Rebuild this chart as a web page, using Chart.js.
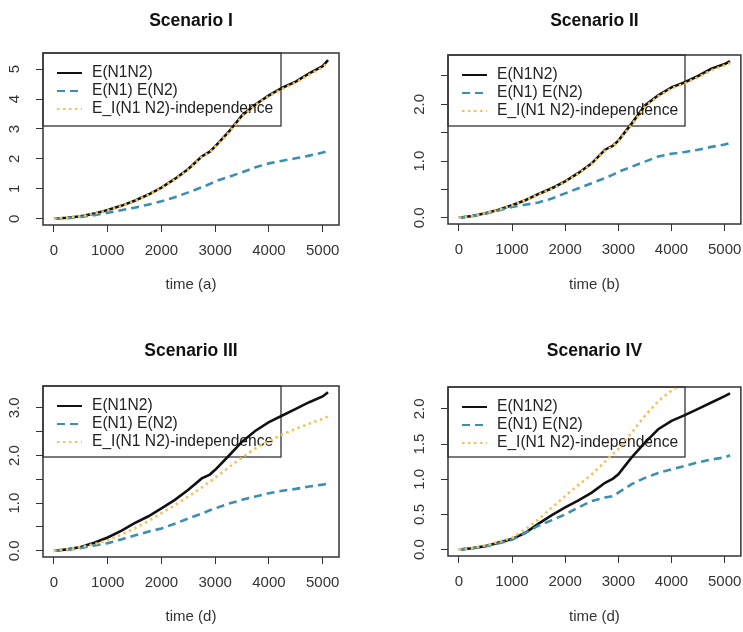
<!DOCTYPE html>
<html>
<head>
<meta charset="utf-8">
<script src="https://cdn.jsdelivr.net/npm/chart.js@4.4.1/dist/chart.umd.min.js"></script>
<style>
html, body { margin: 0; padding: 0; background: #fff; overflow: hidden; width: 743px; height: 632px; }
canvas { position: absolute; }
</style>
</head>
<body>
<canvas id="c1" width="372" height="300" style="left:0;top:0"></canvas>
<canvas id="c2" width="380" height="300" style="left:372px;top:0"></canvas>
<canvas id="c3" width="372" height="302" style="left:0;top:330px"></canvas>
<canvas id="c4" width="380" height="302" style="left:372px;top:330px"></canvas>
<script>
// time grid shared by every curve
const tempos = [0, 250, 500, 750, 1000, 1250, 1500, 1750, 2000, 2250, 2500, 2750, 2900, 3000, 3250, 3500, 3750, 4000, 4250, 4500, 4750, 5000, 5100];
const xTicks = [0, 1000, 2000, 3000, 4000, 5000];
const nomesSerie = ['E(N1N2)', 'E(N1) E(N2)', 'E_I(N1 N2)-independence'];

// Scenario I
const s1Conj  = [0, 0.03, 0.08, 0.17, 0.29, 0.43, 0.60, 0.80, 1.04, 1.33, 1.66, 2.08, 2.24, 2.42, 2.90, 3.45, 3.82, 4.12, 4.38, 4.58, 4.86, 5.10, 5.30];
const s1Prod  = [0, 0.02, 0.06, 0.12, 0.20, 0.28, 0.37, 0.47, 0.58, 0.72, 0.88, 1.05, 1.16, 1.25, 1.40, 1.55, 1.72, 1.85, 1.94, 2.02, 2.11, 2.21, 2.26];
const s1Indep = [0, 0.03, 0.08, 0.17, 0.28, 0.42, 0.59, 0.79, 1.03, 1.31, 1.64, 2.06, 2.22, 2.40, 2.87, 3.42, 3.80, 4.10, 4.34, 4.55, 4.82, 5.06, 5.24];
// Scenario II
const s2Conj  = [0, 0.03, 0.08, 0.14, 0.22, 0.31, 0.42, 0.52, 0.64, 0.79, 0.96, 1.20, 1.27, 1.36, 1.66, 1.98, 2.16, 2.30, 2.39, 2.50, 2.63, 2.71, 2.76];
const s2Prod  = [0, 0.03, 0.07, 0.13, 0.19, 0.23, 0.27, 0.34, 0.43, 0.52, 0.61, 0.70, 0.76, 0.81, 0.90, 0.99, 1.08, 1.13, 1.16, 1.20, 1.25, 1.29, 1.32];
const s2Indep = [0, 0.03, 0.08, 0.14, 0.22, 0.31, 0.41, 0.51, 0.63, 0.78, 0.95, 1.18, 1.26, 1.35, 1.64, 1.96, 2.14, 2.28, 2.37, 2.48, 2.60, 2.69, 2.73];
// Scenario III
const s3Conj  = [0, 0.03, 0.08, 0.17, 0.28, 0.42, 0.58, 0.72, 0.89, 1.07, 1.28, 1.52, 1.60, 1.70, 1.99, 2.29, 2.52, 2.70, 2.84, 2.98, 3.12, 3.24, 3.33];
const s3Prod  = [0, 0.02, 0.06, 0.11, 0.16, 0.24, 0.32, 0.40, 0.47, 0.57, 0.68, 0.78, 0.85, 0.89, 0.99, 1.07, 1.14, 1.21, 1.26, 1.30, 1.35, 1.39, 1.41];
const s3Indep = [0, 0.03, 0.08, 0.14, 0.22, 0.34, 0.47, 0.62, 0.79, 0.96, 1.14, 1.33, 1.45, 1.53, 1.75, 1.96, 2.15, 2.31, 2.44, 2.56, 2.67, 2.77, 2.82];
// Scenario IV
const s4Conj  = [0, 0.02, 0.05, 0.10, 0.15, 0.24, 0.37, 0.49, 0.60, 0.70, 0.81, 0.95, 1.01, 1.07, 1.31, 1.52, 1.71, 1.83, 1.91, 2.00, 2.09, 2.18, 2.22];
const s4Prod  = [0, 0.02, 0.05, 0.09, 0.14, 0.24, 0.34, 0.42, 0.50, 0.60, 0.69, 0.74, 0.76, 0.81, 0.93, 1.02, 1.09, 1.14, 1.19, 1.24, 1.28, 1.31, 1.34];
const s4Indep = [0, 0.02, 0.06, 0.11, 0.17, 0.29, 0.43, 0.60, 0.76, 0.92, 1.07, 1.25, 1.36, 1.43, 1.66, 1.90, 2.11, 2.26, 2.38, 2.50, 2.62, 2.74, 2.80];

const yTicks1 = [0, 1, 2, 3, 4, 5];             const yRotulos1 = [0, 1, 2, 3, 4, 5];
const yTicks2 = [0, 0.5, 1, 1.5, 2, 2.5];       const yRotulos2 = [0, 1, 2];
const yTicks3 = [0, 0.5, 1, 1.5, 2, 2.5, 3];    const yRotulos3 = [0, 1, 2, 3];
const yTicks4 = [0, 0.5, 1, 1.5, 2];            const yRotulos4 = [0, 0.5, 1, 1.5, 2];

const FONTE = '"Liberation Sans", Arial, sans-serif';
Chart.defaults.font.family = FONTE;
Chart.defaults.color = '#222';

const paineis = [
  { id: 'c1', titulo: 'Scenario I',   eixoX: 'time (a)', series: [s1Conj, s1Prod, s1Indep], yMin: -0.21, yMax: 5.54, yTicks: yTicks1, yRot: yRotulos1, dec: 0,
    area: { left: 43, right: 33, top: 53, xAlt: 75 }, leg: { w: 238, h: 73 } },
  { id: 'c2', titulo: 'Scenario II',  eixoX: 'time (b)', series: [s2Conj, s2Prod, s2Indep], yMin: -0.11, yMax: 2.87, yTicks: yTicks2, yRot: yRotulos2, dec: 1,
    area: { left: 76, right: 8, top: 55, xAlt: 76 }, leg: { w: 237, h: 71 } },
  { id: 'c3', titulo: 'Scenario III', eixoX: 'time (d)', series: [s3Conj, s3Prod, s3Indep], yMin: -0.13, yMax: 3.46, yTicks: yTicks3, yRot: yRotulos3, dec: 1,
    area: { left: 43, right: 33, top: 56, xAlt: 75 }, leg: { w: 238, h: 71 } },
  { id: 'c4', titulo: 'Scenario IV',  eixoX: 'time (d)', series: [s4Conj, s4Prod, s4Indep], yMin: -0.09, yMax: 2.31, yTicks: yTicks4, yRot: yRotulos4, dec: 1,
    area: { left: 76, right: 8, top: 57, xAlt: 76 }, leg: { w: 237, h: 70 } }
];

const estilos = [
  { borderColor: '#111111', borderWidth: 2.6, borderDash: [], order: 2 },
  { borderColor: '#3b8fb3', borderWidth: 2.6, borderDash: [8, 5], order: 1 },
  { borderColor: '#f3c35a', borderWidth: 2.6, borderDash: [2.5, 3.5], order: 0 }
];

const ctxMedida = document.createElement('canvas').getContext('2d');
ctxMedida.font = '15px ' + FONTE;
function larguraMax(rotulos, dec) {
  return Math.max(...rotulos.map(v => ctxMedida.measureText(v.toFixed(dec)).width));
}

// R-like legend box in the top-left corner, no fill, drawn under the lines
const legendaR = {
  id: 'legendaR',
  beforeDatasetsDraw(chart, args, opts) {
    const { ctx, chartArea: a } = chart;
    ctx.save();
    ctx.strokeStyle = '#333'; ctx.lineWidth = 1.3;
    ctx.strokeRect(a.left, a.top, opts.w, opts.h);
    ctx.font = '15.6px ' + FONTE;
    ctx.textBaseline = 'middle';
    chart.data.datasets.forEach((ds, i) => {
      const y = a.top + 20 + i * 18;
      ctx.beginPath();
      ctx.setLineDash(ds.borderDash);
      ctx.strokeStyle = ds.borderColor;
      ctx.lineWidth = 2;
      ctx.moveTo(a.left + 14, y); ctx.lineTo(a.left + 39, y);
      ctx.stroke();
      ctx.setLineDash([]);
      ctx.fillStyle = '#222';
      ctx.fillText(ds.label, a.left + 49, y);
    });
    ctx.restore();
  }
};

// full box around the plot region
const caixa = {
  id: 'caixa',
  afterDatasetsDraw(chart) {
    const { ctx, chartArea: a } = chart;
    ctx.save();
    ctx.strokeStyle = '#333'; ctx.lineWidth = 1.5;
    ctx.strokeRect(a.left, a.top, a.right - a.left, a.bottom - a.top);
    ctx.restore();
  }
};

paineis.forEach(p => {
  const padY = 21 - larguraMax(p.yRot, p.dec) / 2;
  new Chart(document.getElementById(p.id), {
    type: 'line',
    data: {
      datasets: p.series.map((s, i) => ({
        label: nomesSerie[i],
        data: tempos.map((t, k) => ({ x: t, y: s[k] })),
        pointRadius: 0,
        fill: false,
        tension: 0,
        ...estilos[i]
      }))
    },
    options: {
      responsive: false,
      animation: false,
      devicePixelRatio: 1,
      layout: { padding: { left: 0, right: p.area.right, top: 0, bottom: 0 } },
      plugins: {
        legend: { display: false },
        tooltip: { enabled: false },
        title: {
          display: true, text: p.titulo, fullSize: false, color: '#111',
          font: { size: 17.5, weight: 'bold', lineHeight: 1.2 },
          padding: { top: 11, bottom: p.area.top - 11 - 21 }
        },
        legendaR: p.leg
      },
      scales: {
        x: {
          type: 'linear', min: -204, max: 5304,
          afterBuildTicks: s => { s.ticks = xTicks.map(v => ({ value: v })); },
          afterFit: s => { s.height = p.area.xAlt; },
          ticks: { autoSkip: false, maxRotation: 0, color: '#333', font: { size: 15 }, padding: 10, callback: v => String(v) },
          grid: { drawOnChartArea: false, drawTicks: true, tickLength: 7, color: '#333', lineWidth: 1 },
          border: { display: false },
          title: { display: true, text: p.eixoX, color: '#333', font: { size: 15 }, padding: { top: 0, bottom: 6 } }
        },
        y: {
          type: 'linear', min: p.yMin, max: p.yMax,
          afterBuildTicks: s => { s.ticks = p.yTicks.map(v => ({ value: v })); },
          afterFit: s => { s.width = p.area.left; },
          ticks: {
            autoSkip: false, minRotation: 90, maxRotation: 90, crossAlign: 'center',
            padding: padY, color: '#333', font: { size: 15 },
            callback: v => p.yRot.some(r => Math.abs(r - v) < 1e-9) ? v.toFixed(p.dec) : ''
          },
          grid: { drawOnChartArea: false, drawTicks: true, tickLength: 7, color: '#333', lineWidth: 1 },
          border: { display: false }
        }
      }
    },
    plugins: [legendaR, caixa]
  });
});
</script>
</body>
</html>
